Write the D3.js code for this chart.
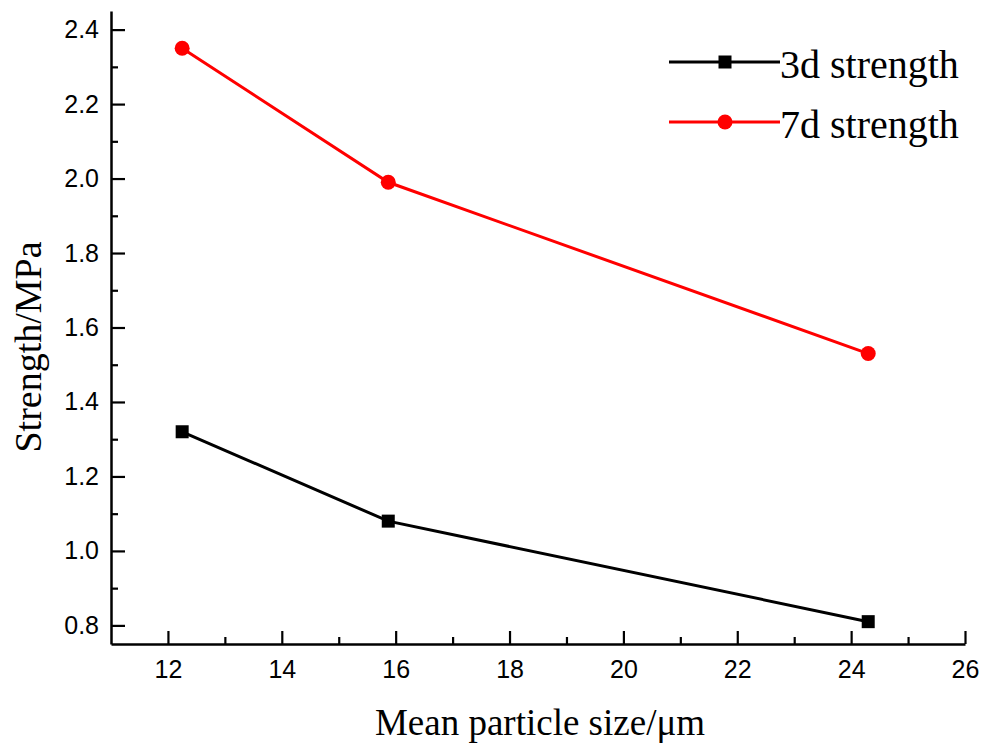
<!DOCTYPE html>
<html>
<head>
<meta charset="utf-8">
<script src="https://cdn.jsdelivr.net/npm/d3@7"></script>
<style>
  body { margin: 0; background: #fff; }
  svg { display: block; }
  .tick text { font-family: "Liberation Sans", Arial, sans-serif; font-size: 25px; fill: #000; }
  .title { font-family: "Liberation Serif", "Times New Roman", serif; fill: #000; }
</style>
</head>
<body>
<svg id="chart" width="985" height="743"></svg>
<script>
const sizes = [12.25, 15.87, 24.3];
const strength3d = [1.32, 1.08, 0.81];
const strength7d = [2.35, 1.99, 1.53];
const xTicks = [12, 14, 16, 18, 20, 22, 24, 26];
const yTicks = [0.8, 1.0, 1.2, 1.4, 1.6, 1.8, 2.0, 2.2, 2.4];

const series = [
  { name: "3d strength", values: strength3d, color: "#000", marker: "square" },
  { name: "7d strength", values: strength7d, color: "#ff0000", marker: "circle" }
];

const svg = d3.select("#chart");
const margin = { left: 111, right: 20, top: 11, bottom: 99 };
const width = 985, height = 743;

const x = d3.scaleLinear().domain([11, 26]).range([margin.left, width - margin.right]);
const y = d3.scaleLinear().domain([0.75, 2.45]).range([height - margin.bottom, margin.top]);

// minor ticks drawn first, then the major axes on top
svg.append("g")
  .attr("transform", `translate(0,${y(0.75)})`)
  .call(d3.axisTop(x).tickValues(d3.range(13, 26, 2)).tickSize(7).tickFormat(""))
  .call(g => g.select(".domain").remove())
  .call(g => g.selectAll("line").attr("stroke-width", 2.2));

svg.append("g")
  .attr("transform", `translate(${x(11)},0)`)
  .call(d3.axisRight(y).tickValues(d3.range(0.9, 2.45, 0.2)).tickSize(7).tickFormat(""))
  .call(g => g.select(".domain").remove())
  .call(g => g.selectAll("line").attr("stroke-width", 2.2));

const xAxis = svg.append("g")
  .attr("transform", `translate(0,${y(0.75)})`)
  .call(d3.axisBottom(x).tickValues(xTicks).tickSize(0).tickPadding(16).tickFormat(d3.format("d")));
xAxis.select(".domain").attr("stroke-width", 2.5);
xAxis.selectAll(".tick").append("line")
  .attr("y2", -13).attr("stroke", "#000").attr("stroke-width", 2.2);

const yAxis = svg.append("g")
  .attr("transform", `translate(${x(11)},0)`)
  .call(d3.axisLeft(y).tickValues(yTicks).tickSize(0).tickPadding(12).tickFormat(d3.format(".1f")));
yAxis.select(".domain").attr("stroke-width", 2.5);
yAxis.selectAll(".tick").append("line")
  .attr("x2", 14).attr("stroke", "#000").attr("stroke-width", 2.2);

const line = d3.line().x((d, i) => x(sizes[i])).y(d => y(d));

series.forEach(s => {
  svg.append("path")
    .attr("d", line(s.values))
    .attr("fill", "none")
    .attr("stroke", s.color)
    .attr("stroke-width", 3);
  drawMarkers(svg, s, s.values.map((v, i) => [x(sizes[i]), y(v)]));
});

function drawMarkers(g, s, points) {
  points.forEach(([px, py]) => {
    if (s.marker === "square") {
      g.append("rect")
        .attr("x", px - 6.5).attr("y", py - 6.5)
        .attr("width", 13).attr("height", 13)
        .attr("fill", s.color);
    } else {
      g.append("circle")
        .attr("cx", px).attr("cy", py).attr("r", 7.5)
        .attr("fill", s.color);
    }
  });
}

// legend
const legend = svg.append("g");
series.forEach((s, i) => {
  const ly = 62 + i * 60;
  legend.append("line")
    .attr("x1", 669).attr("x2", 780).attr("y1", ly).attr("y2", ly)
    .attr("stroke", s.color).attr("stroke-width", 3);
  drawMarkers(legend, s, [[725, ly]]);
  legend.append("text")
    .attr("class", "title")
    .attr("x", 780).attr("y", ly + 16)
    .attr("font-size", 40)
    .text(s.name);
});

svg.append("text")
  .attr("class", "title")
  .attr("x", 540).attr("y", 735)
  .attr("text-anchor", "middle")
  .attr("font-size", 37)
  .text("Mean particle size/\u03bcm");

svg.append("text")
  .attr("class", "title")
  .attr("transform", `translate(41,347) rotate(-90)`)
  .attr("text-anchor", "middle")
  .attr("font-size", 38)
  .text("Strength/MPa");
</script>
</body>
</html>
